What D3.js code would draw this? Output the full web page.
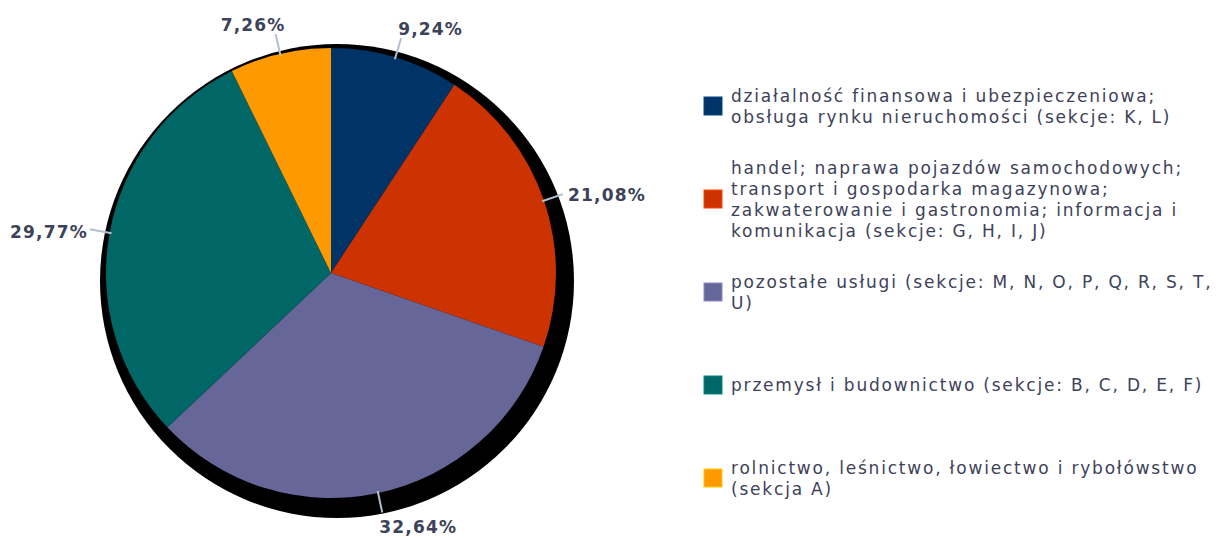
<!DOCTYPE html>
<html>
<head>
<meta charset="utf-8">
<script src="https://cdn.jsdelivr.net/npm/d3@7"></script>
<style>
  html, body { margin: 0; padding: 0; background: #ffffff; }
  svg { display: block; }
</style>
</head>
<body>
<svg id="chart" width="1228" height="538"></svg>
<script>
// ---- data ----
const categories = [
  ["działalność finansowa i ubezpieczeniowa;", "obsługa rynku nieruchomości (sekcje: K, L)"],
  ["handel; naprawa pojazdów samochodowych;", "transport i gospodarka magazynowa;", "zakwaterowanie i gastronomia; informacja i", "komunikacja (sekcje: G, H, I, J)"],
  ["pozostałe usługi (sekcje: M, N, O, P, Q, R, S, T,", "U)"],
  ["przemysł i budownictwo (sekcje: B, C, D, E, F)"],
  ["rolnictwo, leśnictwo, łowiectwo i rybołówstwo", "(sekcja A)"]
];
const values = [9.24, 21.08, 32.64, 29.77, 7.26];
const colors = ["#003366", "#cc3300", "#666699", "#006666", "#ff9900"];

// ---- layout ----
const svg = d3.select("#chart");
const cx = 331, cy = 273, r = 225;
const textColor = "#3d4259";

const fmt = v => d3.format(".2f")(v).replace(".", ",") + "%";

const pie = d3.pie().sort(null).value(d => d.value);
const arcs = pie(values.map((v, i) => ({ value: v, i })));
const arc = d3.arc().innerRadius(0).outerRadius(r);

const g = svg.append("g").attr("transform", `translate(${cx},${cy})`);

// shadow
g.append("circle")
  .attr("cx", 6).attr("cy", 8).attr("r", r + 12)
  .attr("fill", "#000");

g.selectAll("path.slice")
  .data(arcs)
  .join("path")
  .attr("class", "slice")
  .attr("d", arc)
  .attr("fill", d => colors[d.data.i]);

// leaders + labels
const leaderIn = r - 2, leaderOut = r + 20;
arcs.forEach(d => {
  const a = (d.startAngle + d.endAngle) / 2;
  const sx = Math.sin(a), cyv = -Math.cos(a);
  g.append("line")
    .attr("x1", sx * leaderIn).attr("y1", cyv * leaderIn)
    .attr("x2", sx * leaderOut).attr("y2", cyv * leaderOut)
    .attr("stroke", "#b3bfd0").attr("stroke-width", 2);
  const right = sx >= 0;
  const lx = sx * leaderOut;
  const ly = cyv * (r + 32) + 2 + 3 * sx * sx;
  g.append("text")
    .attr("x", lx + (Math.abs(cyv) > 0.9 ? (right ? -3 : 10) : (right ? 5 : -2)))
    .attr("y", ly)
    .attr("dy", "0.36em")
    .attr("text-anchor", right ? "start" : "end")
    .attr("font-family", "DejaVu Sans, sans-serif")
    .attr("font-weight", "bold")
    .attr("font-size", 17)
    .attr("letter-spacing", 1.2)
    .attr("fill", textColor)
    .text(fmt(d.data.value));
});

// legend
const legX = 704, legY0 = 106, legStep = 93, lineH = 21, sw = 18;
const leg = svg.append("g");
categories.forEach((lines, i) => {
  const yc = legY0 + i * legStep;
  leg.append("rect")
    .attr("x", legX).attr("y", yc - sw / 2)
    .attr("width", sw).attr("height", sw)
    .attr("fill", colors[i])
    .attr("stroke", d3.color(colors[i]).brighter(0.8))
    .attr("stroke-width", 1);
  const t = leg.append("text")
    .attr("font-family", "DejaVu Sans, sans-serif")
    .attr("font-size", 17)
    .attr("letter-spacing", 1.8)
    .attr("fill", textColor);
  const top = yc - (lines.length - 1) * lineH / 2;
  lines.forEach((ln, k) => {
    t.append("tspan")
      .attr("x", legX + sw + 9)
      .attr("y", top + k * lineH)
      .attr("dy", "0.36em")
      .text(ln);
  });
});
</script>
</body>
</html>
